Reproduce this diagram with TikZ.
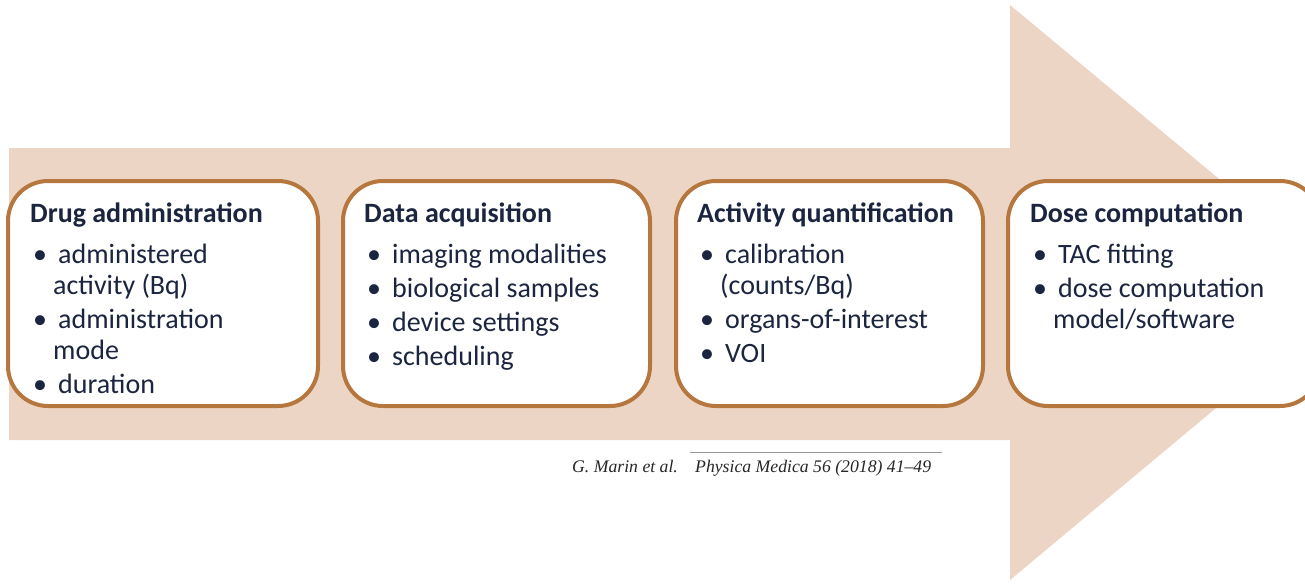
\documentclass[tikz,border=0pt]{standalone}
\usepackage{fontspec}
\setmainfont{Carlito}
\newfontfamily\citefont{Liberation Serif}
\definecolor{arrowfill}{HTML}{ECD5C5}
\definecolor{boxedge}{HTML}{B5773E}
\definecolor{inktext}{HTML}{1C2540}
\definecolor{ruleline}{HTML}{9A9A9A}
% bullet line and its continuation
\newcommand{\bitem}[1]{\hspace*{3pt}\makebox[25pt][l]{\textbullet}#1}
\newcommand{\bcont}[1]{\hspace*{23pt}#1}
\tikzset{
  stagebox/.style={draw=boxedge, line width=4pt, fill=white, rounded corners=40pt},
  stagetext/.style={anchor=north west, inner sep=0pt, align=left, text=inktext,
    font=\fontsize{28}{31}\selectfont},
  citetext/.style={anchor=base west, inner sep=0pt, text=black!85,
    font=\citefont\itshape\fontsize{17.7}{20}\selectfont},
}
\begin{document}
\begin{tikzpicture}[x=1pt,y=-1pt]
\useasboundingbox (0,0) rectangle (1305,584);
\begin{scope}
\clip (0,0) rectangle (1305,584);
% the big process arrow
\fill[arrowfill] (9,148) -- (1010,148) -- (1010,5) -- (1355,292) -- (1010,580)
  -- (1010,440) -- (9,440) -- cycle;
% the four stage boxes
\draw[stagebox] (8,181) rectangle (318,406);
\draw[stagebox] (343,181) rectangle (650,406);
\draw[stagebox] (676,181) rectangle (983,406);
\draw[stagebox] (1008,181) rectangle (1320,406);
\end{scope}
\node[stagetext] (drug) at (30,203) {\textbf{Drug administration}\\[10pt]
  \bitem{administered}\\
  \bcont{activity (Bq)}\\[3pt]
  \bitem{administration}\\
  \bcont{mode}\\[3pt]
  \bitem{duration}};
\node[stagetext] (data) at (364,203) {\textbf{Data acquisition}\\[10pt]
  \bitem{imaging modalities}\\[3pt]
  \bitem{biological samples}\\[3pt]
  \bitem{device settings}\\[3pt]
  \bitem{scheduling}};
\node[stagetext] (act) at (697,203) {\textbf{Activity quantification}\\[10pt]
  \bitem{calibration}\\
  \bcont{(counts/Bq)}\\[3pt]
  \bitem{organs-of-interest}\\[3pt]
  \bitem{VOI}};
\node[stagetext] (dose) at (1030,203) {\textbf{Dose computation}\\[10pt]
  \bitem{TAC fitting}\\[3pt]
  \bitem{dose computation}\\
  \bcont{model/software}};
% source line
\node[citetext] (auth) at (572,472) {G. Marin et al.};
\node[citetext] (jour) at (695,472) {Physica Medica 56 (2018) 41\textendash 49};
\coordinate (ruleL) at (690,452);
\coordinate (ruleR) at (942,452);
\draw[ruleline, line width=0.8pt] (ruleL) -- (ruleR);
\end{tikzpicture}
\end{document}
